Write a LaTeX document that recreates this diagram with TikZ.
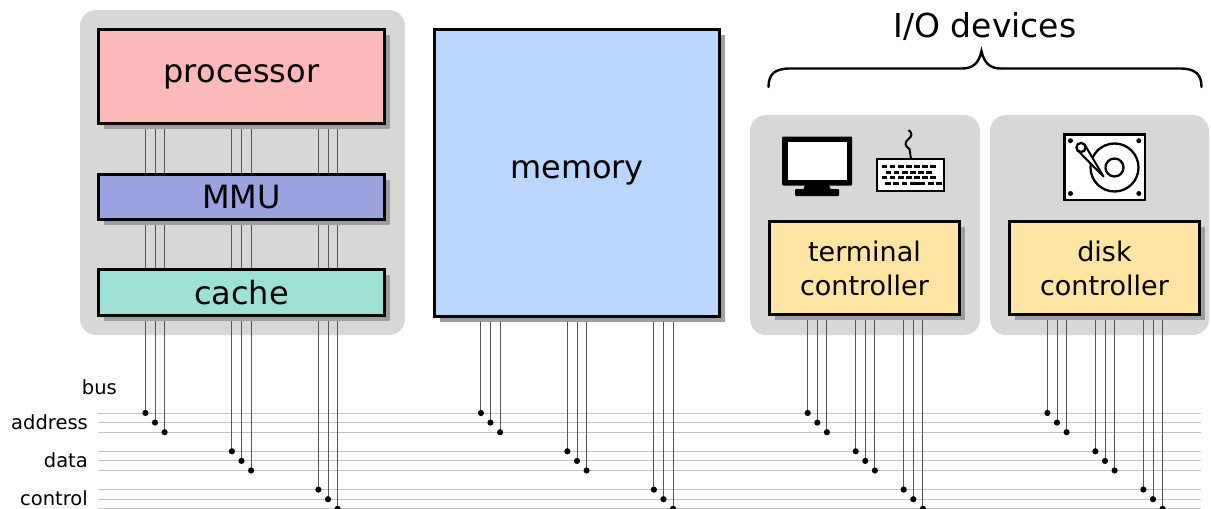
\documentclass[tikz,border=0pt]{standalone}
\usepackage{fontspec}
\setmainfont{DejaVu Sans}
\usetikzlibrary{shadows}
\definecolor{grpgray}{HTML}{D7D7D7}
\definecolor{procfill}{HTML}{FBB9B9}
\definecolor{mmufill}{HTML}{9BA2E0}
\definecolor{cachefill}{HTML}{9CE0D6}
\definecolor{memfill}{HTML}{BBD6FC}
\definecolor{ctrlfill}{HTML}{FFE4A3}
\definecolor{wirecol}{HTML}{555555}
\definecolor{buscol}{HTML}{C4C4C4}
\newcommand\fbig{\fontsize{32}{38}\selectfont}
\newcommand\fmid{\fontsize{27}{34}\selectfont}
\newcommand\fsml{\fontsize{19.5}{23}\selectfont}
\newcommand\fio{\fontsize{33}{40}\selectfont}
\begin{document}
\begin{tikzpicture}[x=1pt,y=-1pt,
  grp/.style={fill=grpgray, rounded corners=16pt, inner sep=0pt, outer sep=0pt},
  box/.style={draw=black, line width=3.2pt, inner sep=0pt, outer sep=0pt, align=center,
    drop shadow={shadow xshift=5pt, shadow yshift=-5pt, fill=black!38, opacity=1}},
  wire/.style={draw=wirecol, line width=0.9pt},
  busline/.style={draw=buscol, line width=1pt},
  lbl/.style={anchor=east, inner sep=0pt, font=\fsml}]
\useasboundingbox (0,0) rectangle (1211,509);

% group backgrounds
\node[grp, minimum width=325pt, minimum height=325pt] (cpugrp) at (242.5,172.5) {};
\node[grp, minimum width=230pt, minimum height=220pt] (termgrp) at (865,225) {};
\node[grp, minimum width=219pt, minimum height=220pt] (diskgrp) at (1099.5,225) {};

% bus lines
\foreach \i in {0,1,2}{
  \foreach \j in {0,1,2}{
    \pgfmathsetmacro\by{413+\i*38.3+\j*9.6}
    \coordinate (bl\i\j) at (98,\by);
    \coordinate (br\i\j) at (1201,\by);
    \draw[busline] (bl\i\j) -- (br\i\j);
  }
}

% wires
\foreach \g/\cx/\sp/\ty in {P/241.5/86.5/125, M/577/86.5/318, T/865.3/48/316, D/1105/48/316}{
  \foreach \i in {0,1,2}{
    \foreach \j in {0,1,2}{
      \pgfmathsetmacro\wx{\cx+(\i-1)*\sp+(\j-1)*9.6}
      \pgfmathsetmacro\wy{413+\i*38.3+\j*9.6}
      \coordinate (\g t\i\j) at (\wx,\ty);
      \coordinate (\g d\i\j) at (\wx,\wy);
      \draw[wire] (\g t\i\j) -- (\g d\i\j);
      \fill (\g d\i\j) circle (3.1pt);
    }
  }
}

% boxes
\node[box, fill=procfill, minimum width=286pt, minimum height=94pt, font=\fbig] (proc) at (241.5,76.5) {processor};
\node[box, fill=mmufill, minimum width=286pt, minimum height=45pt, font=\fbig] (mmu) at (241.5,197) {MMU};
\node[box, fill=cachefill, minimum width=286pt, minimum height=46pt, font=\fbig] (cache) at (241.5,292.5) {cache};
\node[box, fill=memfill, minimum width=285pt, minimum height=287pt, font=\fbig] (mem) at (577,173) {memory};
\node[box, fill=ctrlfill, minimum width=190pt, minimum height=93pt, font=\fmid] (term) at (864.5,268) {terminal\\controller};
\node[box, fill=ctrlfill, minimum width=190pt, minimum height=93pt, font=\fmid] (disk) at (1104.5,268) {disk\\controller};

% bus labels
\node[lbl] (lbus) at (117,387) {bus};
\node[lbl] (laddr) at (88,422) {address};
\node[lbl] (ldata) at (88,460.5) {data};
\node[lbl] (lctrl) at (88,498.5) {control};

% I/O devices label and brace
\node[font=\fio, inner sep=0pt, anchor=base] (io) at (985,37) {I/O devices};
\draw[line width=2.4pt, line cap=round]
  (768.5,87) .. controls (768.5,74) and (775,68.5) .. (790,68.5)
  -- (962,68.5) .. controls (973,68.5) and (979,63) .. (981.5,51)
  .. controls (984,63) and (990,68.5) .. (1001,68.5)
  -- (1180,68.5) .. controls (1195,68.5) and (1201.5,74) .. (1201.5,87);

% monitor icon
\fill[rounded corners=1pt] (782,136.5) rectangle (852,185.5);
\fill[white] (787.5,141.5) rectangle (847,180);
\fill (805,185) -- (829,185) -- (831,190) -- (803,190) -- cycle;
\fill[rounded corners=1pt] (795,189) rectangle (839,196);

% keyboard icon
\draw[line width=2pt] (908.5,130) .. controls (912.5,133) and (912.5,136) .. (908,139.5)
  .. controls (904,143) and (905,146) .. (909.5,149) -- (911,159);
\draw[line width=2.2pt, fill=white] (877,159.3) rectangle (944,190.7);
\foreach \k in {0,...,6} \fill (881.7+\k*8.1,165.2) rectangle ++(5.6,3.1);
\foreach \k in {0,...,5} \fill (885.7+\k*8.1,170.5) rectangle ++(5.6,3.1);
\foreach \k in {0,...,6} \fill (881.7+\k*8.1,175.9) rectangle ++(5.6,3.1);
\foreach \k in {885,893.3,901.6,928.3,936} \fill (\k,182.3) rectangle ++(5.6,3.1);
\fill (909.9,182.3) rectangle (925,185.4);

% disk icon
\draw[line width=2.4pt, fill=white] (1064.3,134.3) rectangle (1145,200);
\foreach \p in {(1070.5,140.7),(1138.8,140.7),(1070.5,193.5),(1138.8,193.5)} \fill \p circle (2.5pt);
\draw[line width=2.3pt] (1114.5,167.5) circle (24pt);
\draw[line width=2.3pt] (1114.5,167.5) circle (9pt);
\draw[line width=2pt, line join=round, fill=white] (1077.4,150.2) -- (1103.5,176.5) -- (1084.8,144.8) -- cycle;
\draw[line width=2.3pt, fill=white] (1081,147.5) circle (4.6pt);
\end{tikzpicture}
\end{document}
